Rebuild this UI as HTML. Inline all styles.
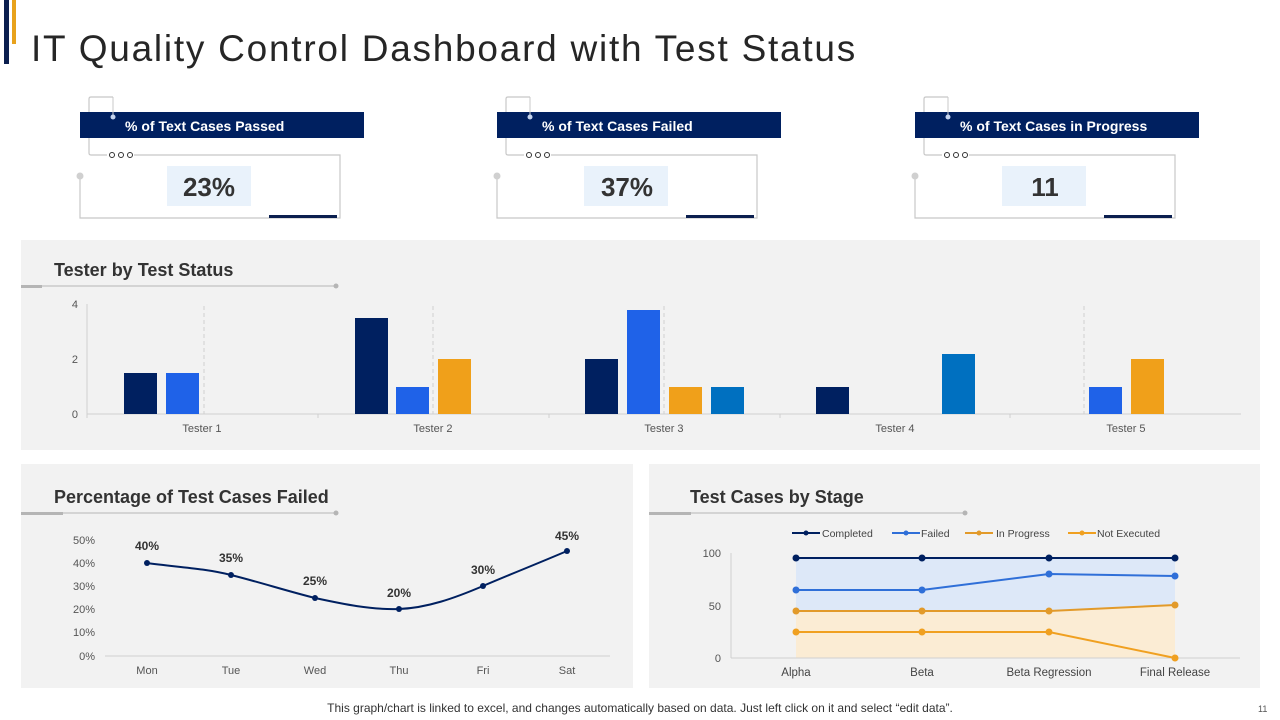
<!DOCTYPE html>
<html><head><meta charset="utf-8"><style>
body{margin:0;width:1280px;height:720px;background:#fff;font-family:"Liberation Sans",sans-serif;position:relative;overflow:hidden}
.a{position:absolute}
</style></head><body>
<div class="a" style="left:4px;top:0;width:5px;height:64px;background:#0b1f4f"></div>
<div class="a" style="left:12px;top:0;width:4px;height:44px;background:#e8a21c"></div>
<div class="a" style="left:31px;top:28px;font-size:37px;color:#262626;letter-spacing:1.75px;white-space:nowrap">IT Quality Control Dashboard with Test Status</div>

<svg class="a" style="left:0;top:0" width="1280" height="720" font-family="Liberation Sans, sans-serif">
<g id="card">
<path d="M80 176 V218 H340 V155 H134" fill="none" stroke="#c8c8c8" stroke-width="1.2"/>
<path d="M113 97 H91 Q89 97 89 99 V153 Q89 155 91 155 H107" fill="none" stroke="#c8c8c8" stroke-width="1.2"/>
<rect x="80" y="112" width="284" height="26" fill="#002060"/>
<line x1="113" y1="97" x2="113" y2="118" stroke="#c8c8c8"/>
<circle cx="113" cy="117" r="2.5" fill="#c5d4ee"/>
<circle cx="80" cy="176" r="3.5" fill="#d0d0d0"/>
<circle cx="112" cy="155" r="2.5" fill="#fff" stroke="#333" stroke-width="1"/>
<circle cx="121" cy="155" r="2.5" fill="#fff" stroke="#333" stroke-width="1"/>
<circle cx="130" cy="155" r="2.5" fill="#fff" stroke="#333" stroke-width="1"/>
<rect x="167" y="166" width="84" height="40" fill="#e9f2fb"/>
<rect x="269" y="215" width="68" height="3" fill="#0b1f4f"/>
</g>
<use href="#card" x="417"/>
<use href="#card" x="835"/>
<g font-weight="bold" fill="#fff" font-size="14">
<text x="125" y="131">% of Text Cases Passed</text>
<text x="542" y="131">% of Text Cases Failed</text>
<text x="960" y="131">% of Text Cases in Progress</text>
</g>
<g font-weight="bold" fill="#333" font-size="26" text-anchor="middle">
<text x="209" y="196">23%</text>
<text x="627" y="196">37%</text>
<text x="1045" y="196">11</text>
</g>

<rect x="21" y="240" width="1239" height="210" fill="#f2f2f2"/>
<text x="54" y="276" font-size="18" font-weight="bold" fill="#333">Tester by Test Status</text>
<line x1="21" y1="286" x2="336" y2="286" stroke="#b5b5b5" stroke-width="1"/>
<rect x="21" y="285" width="21" height="3" fill="#b5b5b5"/>
<circle cx="336" cy="286" r="2.5" fill="#b5b5b5"/>
<g stroke="#d0d0d0" stroke-dasharray="4 3">
<line x1="204" y1="306" x2="204" y2="414"/><line x1="433" y1="306" x2="433" y2="414"/><line x1="664" y1="306" x2="664" y2="414"/><line x1="1084" y1="306" x2="1084" y2="414"/>
</g>
<line x1="87" y1="304" x2="87" y2="418" stroke="#d0d0d0"/>
<line x1="87" y1="414" x2="1241" y2="414" stroke="#d0d0d0"/>
<g stroke="#d0d0d0"><line x1="318" y1="414" x2="318" y2="418"/><line x1="549" y1="414" x2="549" y2="418"/><line x1="780" y1="414" x2="780" y2="418"/><line x1="1010" y1="414" x2="1010" y2="418"/></g>
<g font-size="11" fill="#555" text-anchor="end"><text x="78" y="308">4</text><text x="78" y="363">2</text><text x="78" y="418">0</text></g>
<g font-size="11" fill="#555" text-anchor="middle"><text x="202" y="432">Tester 1</text><text x="433" y="432">Tester 2</text><text x="664" y="432">Tester 3</text><text x="895" y="432">Tester 4</text><text x="1126" y="432">Tester 5</text></g>
<rect x="124" y="373" width="33" height="41" fill="#002060"/>
<rect x="166" y="373" width="33" height="41" fill="#1f62e8"/>
<rect x="355" y="318" width="33" height="96" fill="#002060"/>
<rect x="396" y="387" width="33" height="27" fill="#1f62e8"/>
<rect x="438" y="359" width="33" height="55" fill="#f0a01a"/>
<rect x="585" y="359" width="33" height="55" fill="#002060"/>
<rect x="627" y="310" width="33" height="104" fill="#1f62e8"/>
<rect x="669" y="387" width="33" height="27" fill="#f0a01a"/>
<rect x="711" y="387" width="33" height="27" fill="#0070c0"/>
<rect x="816" y="387" width="33" height="27" fill="#002060"/>
<rect x="942" y="354" width="33" height="60" fill="#0070c0"/>
<rect x="1089" y="387" width="33" height="27" fill="#1f62e8"/>
<rect x="1131" y="359" width="33" height="55" fill="#f0a01a"/>

<rect x="21" y="464" width="612" height="224" fill="#f2f2f2"/>
<text x="54" y="503" font-size="18" font-weight="bold" fill="#333">Percentage of Test Cases Failed</text>
<line x1="21" y1="513" x2="336" y2="513" stroke="#b5b5b5"/>
<rect x="21" y="512" width="42" height="3" fill="#b5b5b5"/>
<circle cx="336" cy="513" r="2.5" fill="#b5b5b5"/>
<line x1="105" y1="656" x2="610" y2="656" stroke="#d0d0d0"/>
<g font-size="11" fill="#555" text-anchor="end">
<text x="95" y="544">50%</text><text x="95" y="567">40%</text><text x="95" y="590">30%</text><text x="95" y="613">20%</text><text x="95" y="636">10%</text><text x="95" y="660">0%</text></g>
<g font-size="11" fill="#555" text-anchor="middle">
<text x="147" y="674">Mon</text><text x="231" y="674">Tue</text><text x="315" y="674">Wed</text><text x="399" y="674">Thu</text><text x="483" y="674">Fri</text><text x="567" y="674">Sat</text></g>
<path d="M147 563 C175 567 203 568 231 575 C259 582 287 591 315 598 C343 604 371 610 399 609 C427 608 455 598 483 586 C511 574 539 563 567 551" fill="none" stroke="#002060" stroke-width="2"/>
<g fill="#002060"><circle cx="147" cy="563" r="3"/><circle cx="231" cy="575" r="3"/><circle cx="315" cy="598" r="3"/><circle cx="399" cy="609" r="3"/><circle cx="483" cy="586" r="3"/><circle cx="567" cy="551" r="3"/></g>
<g font-size="12" font-weight="bold" fill="#333" text-anchor="middle">
<text x="147" y="550">40%</text><text x="231" y="562">35%</text><text x="315" y="585">25%</text><text x="399" y="597">20%</text><text x="483" y="574">30%</text><text x="567" y="540">45%</text></g>

<rect x="649" y="464" width="611" height="224" fill="#f2f2f2"/>
<text x="690" y="503" font-size="18" font-weight="bold" fill="#333">Test Cases by Stage</text>
<line x1="649" y1="513" x2="965" y2="513" stroke="#b5b5b5"/>
<rect x="649" y="512" width="42" height="3" fill="#b5b5b5"/>
<circle cx="965" cy="513" r="2.5" fill="#b5b5b5"/>
<g font-size="10.5" fill="#444">
<line x1="792" y1="533" x2="820" y2="533" stroke="#002060" stroke-width="2"/><circle cx="806" cy="533" r="2.5" fill="#002060"/><text x="822" y="537">Completed</text>
<line x1="892" y1="533" x2="920" y2="533" stroke="#2f6fd8" stroke-width="2"/><circle cx="906" cy="533" r="2.5" fill="#2f6fd8"/><text x="921" y="537">Failed</text>
<line x1="965" y1="533" x2="993" y2="533" stroke="#e29a2a" stroke-width="2"/><circle cx="979" cy="533" r="2.5" fill="#e29a2a"/><text x="996" y="537">In Progress</text>
<line x1="1068" y1="533" x2="1096" y2="533" stroke="#f0a020" stroke-width="2"/><circle cx="1082" cy="533" r="2.5" fill="#f0a020"/><text x="1097" y="537">Not Executed</text>
</g>
<polygon points="796,558 1175,558 1175,605 1049,611 796,611" fill="#dde8f8"/>
<polygon points="796,611 1049,611 1175,605 1175,658 796,658" fill="#fbecd4"/>
<line x1="731" y1="553" x2="731" y2="658" stroke="#d0d0d0"/>
<line x1="731" y1="658" x2="1240" y2="658" stroke="#d0d0d0"/>
<g font-size="11" fill="#555" text-anchor="end"><text x="721" y="557">100</text><text x="721" y="610">50</text><text x="721" y="662">0</text></g>
<g font-size="11.5" fill="#444" text-anchor="middle"><text x="796" y="676">Alpha</text><text x="922" y="676">Beta</text><text x="1049" y="676">Beta Regression</text><text x="1175" y="676">Final Release</text></g>
<g fill="none" stroke-width="2">
<polyline points="796,558 922,558 1049,558 1175,558" stroke="#002060"/>
<polyline points="796,590 922,590 1049,574 1175,576" stroke="#2f6fd8"/>
<polyline points="796,611 922,611 1049,611 1175,605" stroke="#e29a2a"/>
<polyline points="796,632 922,632 1049,632 1175,658" stroke="#f0a020"/>
</g>
<g fill="#002060"><circle cx="796" cy="558" r="3.5"/><circle cx="922" cy="558" r="3.5"/><circle cx="1049" cy="558" r="3.5"/><circle cx="1175" cy="558" r="3.5"/></g>
<g fill="#2f6fd8"><circle cx="796" cy="590" r="3.5"/><circle cx="922" cy="590" r="3.5"/><circle cx="1049" cy="574" r="3.5"/><circle cx="1175" cy="576" r="3.5"/></g>
<g fill="#e29a2a"><circle cx="796" cy="611" r="3.5"/><circle cx="922" cy="611" r="3.5"/><circle cx="1049" cy="611" r="3.5"/><circle cx="1175" cy="605" r="3.5"/></g>
<g fill="#f0a020"><circle cx="796" cy="632" r="3.5"/><circle cx="922" cy="632" r="3.5"/><circle cx="1049" cy="632" r="3.5"/><circle cx="1175" cy="658" r="3.5"/></g>

<text x="640" y="712" font-size="12" fill="#333" text-anchor="middle">This graph/chart is linked to excel, and changes automatically based on data. Just left click on it and select “edit data”.</text>
<text x="1258" y="712" font-size="9" fill="#555">11</text>
</svg>
</body></html>
